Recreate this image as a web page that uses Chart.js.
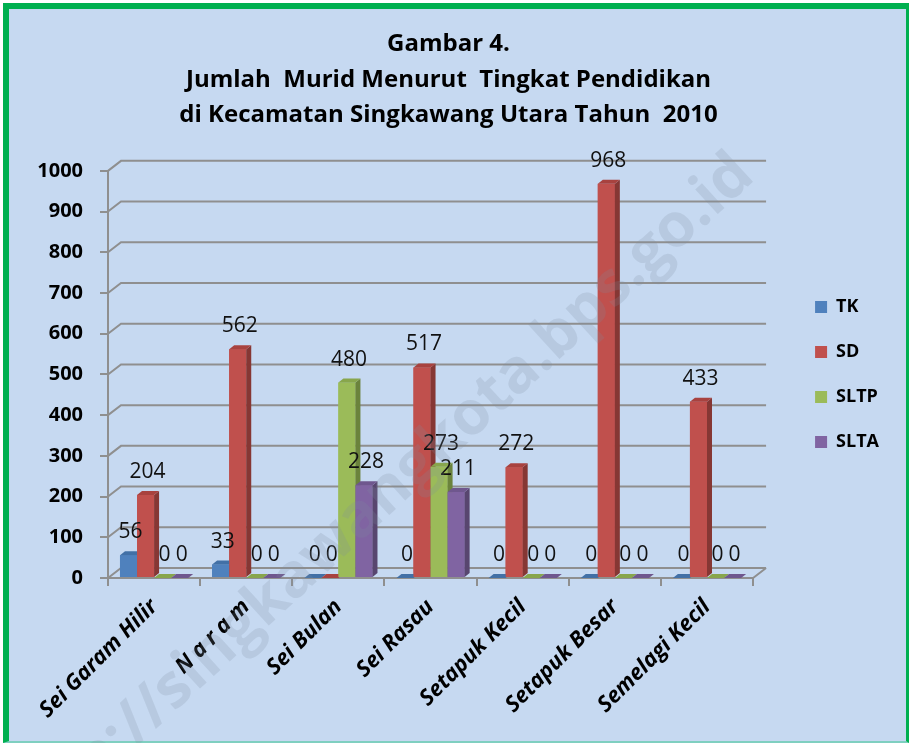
<!DOCTYPE html>
<html>
<head>
<meta charset="utf-8">
<script src="https://cdn.jsdelivr.net/npm/chart.js@4.4.0/dist/chart.umd.min.js"></script>
<style>
    html, body { margin: 0; padding: 0; background: #fff; }
    #frame {
        position: absolute; left: 3px; top: 3px; width: 897px; height: 732px;
        border-left: 6px solid #00b050; border-top: 6px solid #00b050;
        border-right: 3px solid #00b050; border-bottom: 2px solid #7fcfc0;
        background: #c6d9f1;
    }
    #chart { position: absolute; left: 0; top: 0; }
</style>
</head>
<body>
<div id="frame"></div>
<canvas id="chart" width="909" height="743"></canvas>
<script>
    "use strict";

    var categories = ['Sei Garam Hilir', 'N a r a m', 'Sei Bulan', 'Sei Rasau', 'Setapuk Kecil', 'Setapuk Besar', 'Semelagi Kecil'];
    var seriesNames = ['TK', 'SD', 'SLTP', 'SLTA'];
    var tkValues = [56, 33, 0, 0, 0, 0, 0];
    var sdValues = [204, 562, 0, 517, 272, 968, 433];
    var sltpValues = [0, 0, 480, 273, 0, 0, 0];
    var sltaValues = [0, 0, 228, 211, 0, 0, 0];
    var yTicks = [0, 100, 200, 300, 400, 500, 600, 700, 800, 900, 1000];

    var frontColors = ['#4f81bd', '#c0504d', '#9bbb59', '#8064a2'];
    var sideColors = ['#34577f', '#863734', '#6b833c', '#58466f'];
    var topColors = ['#4270a6', '#a8423f', '#88a64c', '#6f578e'];
    var gridColor = '#8f8f8f';

    // depth of the back wall and of each bar
    var wallDx = 13, wallDy = 10;
    var barDx = 5, barDy = 4;

    Chart.defaults.font.family = "'Open Sans', sans-serif";
    Chart.defaults.color = '#000';

    var threeD = {
        id: 'threeD',
        beforeDatasetsDraw: function (chart) {
            var ctx = chart.ctx, y = chart.scales.y, area = chart.chartArea;
            ctx.save();
            ctx.strokeStyle = gridColor;
            ctx.lineWidth = 2;
            ctx.beginPath();
            yTicks.forEach(function (v) {
                var py = y.getPixelForValue(v);
                ctx.moveTo(area.left, py);
                ctx.lineTo(area.left + wallDx, py - wallDy);
                ctx.lineTo(area.right + wallDx, py - wallDy);
            });
            var y0 = y.getPixelForValue(0);
            ctx.moveTo(area.right, y0);
            ctx.lineTo(area.right + wallDx, y0 - wallDy);
            ctx.stroke();
            ctx.restore();
        },
        afterDatasetsDraw: function (chart) {
            var ctx = chart.ctx;
            var lists = [tkValues, sdValues, sltpValues, sltaValues];
            ctx.save();
            for (var i = 0; i < categories.length; i++) {
                for (var d = 0; d < lists.length; d++) {
                    var p = chart.getDatasetMeta(d).data[i].getProps(['x', 'y', 'base', 'width'], true);
                    var l = p.x - p.width / 2, r = p.x + p.width / 2;
                    ctx.fillStyle = frontColors[d];
                    ctx.fillRect(l, p.y, p.width, p.base - p.y);
                    ctx.fillStyle = sideColors[d];
                    ctx.beginPath();
                    ctx.moveTo(r, p.y);
                    ctx.lineTo(r + barDx, p.y - barDy);
                    ctx.lineTo(r + barDx, p.base - barDy);
                    ctx.lineTo(r, p.base);
                    ctx.closePath();
                    ctx.fill();
                    ctx.fillStyle = topColors[d];
                    ctx.beginPath();
                    ctx.moveTo(l, p.y);
                    ctx.lineTo(r, p.y);
                    ctx.lineTo(r + barDx, p.y - barDy);
                    ctx.lineTo(l + barDx, p.y - barDy);
                    ctx.closePath();
                    ctx.fill();
                }
            }
            // value labels
            ctx.fillStyle = '#111';
            ctx.font = "21px 'Open Sans', sans-serif";
            ctx.textAlign = 'center';
            ctx.textBaseline = 'middle';
            for (var d2 = 0; d2 < lists.length; d2++) {
                chart.getDatasetMeta(d2).data.forEach(function (bar, i) {
                    ctx.fillText(String(lists[d2][i]), bar.x + 2, bar.y - 23);
                });
            }
            ctx.restore();
        },
        afterDraw: function (chart) {
            var ctx = chart.ctx;
            ctx.save();
            ctx.translate(380, 500);
            ctx.rotate(-42.5 * Math.PI / 180);
            ctx.font = "bold 61px 'Open Sans', sans-serif";
            ctx.fillStyle = 'rgba(125,140,160,0.2)';
            ctx.textAlign = 'center';
            ctx.textBaseline = 'middle';
            ctx.fillText('http://singkawangkota.bps.go.id', 0, 0);
            ctx.restore();
        }
    };

    var ctx = document.getElementById('chart').getContext('2d');
    var lists = [tkValues, sdValues, sltpValues, sltaValues];
    var datasets = seriesNames.map(function (name, d) {
        return {
            label: name,
            data: lists[d],
            backgroundColor: frontColors[d],
            borderWidth: 0,
            categoryPercentage: 0.74,
            barPercentage: 1.0
        };
    });

    var myChart = new Chart(ctx, {
        type: 'bar',
        data: { labels: categories, datasets: datasets },
        options: {
            responsive: false,
            animation: false,
            layout: { padding: { left: 8, right: 20, top: 0, bottom: 0 } },
            plugins: {
                title: {
                    display: true,
                    text: ['Gambar 4.', 'Jumlah  Murid Menurut  Tingkat Pendidikan', 'di Kecamatan Singkawang Utara Tahun  2010'],
                    font: { size: 24, weight: 'bold', lineHeight: 1.47 },
                    color: '#000',
                    padding: { top: 27, bottom: 38 }
                },
                legend: {
                    position: 'right',
                    align: 'center',
                    fullSize: false,
                    labels: {
                        boxWidth: 12,
                        boxHeight: 12,
                        padding: 27,
                        color: '#000',
                        font: { size: 18, weight: 'bold' }
                    }
                },
                tooltip: { enabled: false }
            },
            scales: {
                x: {
                    grid: { drawOnChartArea: false, tickLength: 8, color: gridColor, lineWidth: 2, offset: true },
                    border: { color: gridColor, width: 2 },
                    ticks: {
                        autoSkip: false, maxRotation: 45, minRotation: 45, padding: 8,
                        color: '#000',
                        font: { size: 22, weight: 'bold', style: 'italic' }
                    },
                    afterFit: function (s) { s.height = 165; }
                },
                y: {
                    min: yTicks[0],
                    max: yTicks[yTicks.length - 1],
                    grid: { drawOnChartArea: false, tickLength: 8, color: gridColor, lineWidth: 2 },
                    border: { color: gridColor, width: 2 },
                    ticks: {
                        stepSize: 100, padding: 17, color: '#000',
                        font: { size: 20, weight: 'bold' },
                        callback: function (v) { return String(v); }
                    },
                    afterFit: function (s) { s.width = 100; }
                },
                y2: {
                    position: 'right',
                    display: true,
                    grid: { display: false },
                    border: { display: false },
                    ticks: { display: false },
                    afterFit: function (s) { s.width = 35; }
                }
            }
        },
        plugins: [threeD]
    });
</script>
</body>
</html>
